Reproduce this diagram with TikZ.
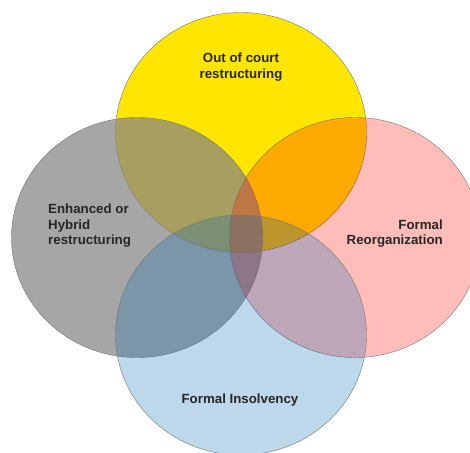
\documentclass[tikz,border=0pt]{standalone}
\usepackage{fontspec}
\setmainfont{Liberation Sans}
\usepackage{tikz}
\usetikzlibrary{shapes,positioning}

\definecolor{courtyellow}{RGB}{255,229,0}
\definecolor{hybridgray}{RGB}{132,132,132}
\definecolor{reorgred}{RGB}{255,11,0}
\definecolor{insolvblue}{RGB}{0,100,177}

\begin{document}
\begin{tikzpicture}[x=1pt,y=1pt,
    set node/.style={ellipse,minimum width=251pt,minimum height=240pt,
                     inner sep=0pt,draw=black!55,line width=0.4pt},
    label node/.style={font=\fontsize{13.3}{15.5}\selectfont\bfseries,
                       text=black!85,inner sep=0pt}]
  \useasboundingbox (0,0) rectangle (470,452);

  % the four sets
  \node[set node,fill=courtyellow]                      (court)  at (241,319.5) {};
  \node[set node,fill=hybridgray,fill opacity=0.72]     (hybrid) at (137,214.5) {};
  \node[set node,fill=reorgred,fill opacity=0.27]       (reorg)  at (355,214.5) {};
  \node[set node,fill=insolvblue,fill opacity=0.26]     (insolv) at (241,117)   {};

  % labels
  \node[label node,align=center]           (courttext)  at (241,385) {Out of court\\restructuring};
  \node[label node,align=left,anchor=west] (hybridtext) at (48,226)  {Enhanced or\\Hybrid\\restructuring};
  \node[label node,align=right,anchor=east](reorgtext)  at (443,218.5) {Formal\\Reorganization};
  \node[label node]                        (insolvtext) at (240,52)  {Formal Insolvency};

\end{tikzpicture}
\end{document}
